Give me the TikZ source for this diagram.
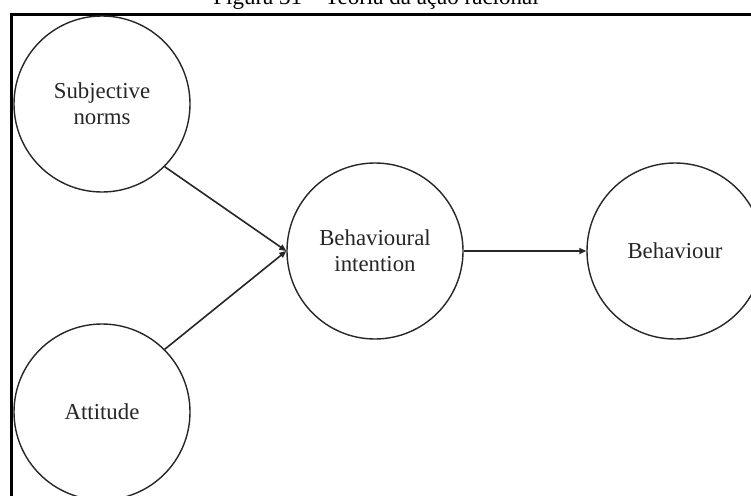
\documentclass[tikz,border=0pt]{standalone}
\usepackage{fontspec}
\setmainfont{Liberation Serif}
\usetikzlibrary{arrows.meta}
\begin{document}
\begin{tikzpicture}[x=1pt,y=-1pt,
  concept/.style={circle,draw=black!85,line width=1.4pt,minimum size=176pt,inner sep=0pt,
    align=center,font=\fontsize{22.8}{26}\selectfont,text=black!85},
  link/.style={draw=black!85,line width=1.6pt,-{Triangle[length=7pt,width=6pt]}}]
  \useasboundingbox (0,0) rectangle (751,495);
  \fill[white] (0,0) rectangle (751,495);
  % caption (its upper half lies above the page)
  \node[anchor=base,inner sep=0pt,font=\fontsize{23}{27}\selectfont] (title) at (376,5)
    {Figura 31 -- Teoria da ação racional};
  % frame
  \draw[line width=3pt] (11,14.5) rectangle (780,520);
  % concepts
  \node[concept] (sn)  at (102,104) {Subjective\\norms};
  \node[concept] (att) at (102,412) {Attitude};
  \node[concept] (bi)  at (375,251) {Behavioural\\intention};
  \node[concept] (beh) at (675,251) {Behaviour};
  % influences
  \draw[link] (sn.-45) -- (bi.west);
  \draw[link] (att.45) -- (bi.west);
  \draw[link] (bi.east) -- (beh.west);
\end{tikzpicture}
\end{document}
